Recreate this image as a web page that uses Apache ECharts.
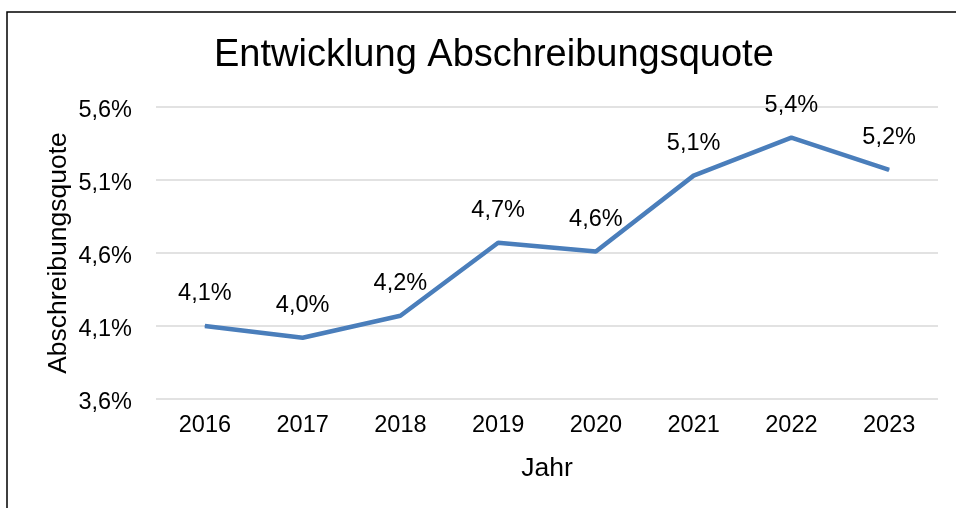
<!DOCTYPE html>
<html>
<head>
<meta charset="utf-8">
<script src="https://cdn.jsdelivr.net/npm/echarts@6/dist/echarts.min.js"></script>
<style>
  html, body { margin: 0; padding: 0; background: #fff; }
  #chart { width: 956px; height: 508px; }
</style>
</head>
<body>
<div id="chart"></div>
<script>
var years = ['2016', '2017', '2018', '2019', '2020', '2021', '2022', '2023'];
var quote = [4.10, 4.02, 4.17, 4.67, 4.61, 5.13, 5.39, 5.17];
var yTicks = [3.6, 4.1, 4.6, 5.1, 5.6];

function pct(v) {
  return v.toFixed(1).replace('.', ',') + '%';
}

var font = 'Liberation Sans, Arial, sans-serif';

var option = {
  animation: false,
  title: {
    text: 'Entwicklung Abschreibungsquote',
    left: 209,
    top: 32,
    textStyle: { fontFamily: font, fontSize: 38, fontWeight: 'normal', color: '#000' }
  },
  graphic: [{
    type: 'rect',
    shape: { x: 7, y: 12, width: 1000, height: 600 },
    style: { fill: 'none', stroke: '#000', lineWidth: 1.5 }
  }],
  grid: { left: 156, right: 18, top: 107, bottom: 109 },
  xAxis: {
    type: 'category',
    data: years,
    boundaryGap: true,
    name: 'Jahr',
    nameLocation: 'middle',
    nameGap: 56,
    nameTextStyle: { fontFamily: font, fontSize: 26.5, color: '#000' },
    axisLine: { show: false },
    axisTick: { show: false },
    axisLabel: { fontFamily: font, fontSize: 23.5, color: '#000', margin: 15 }
  },
  yAxis: {
    type: 'value',
    min: yTicks[0],
    max: yTicks[yTicks.length - 1],
    interval: yTicks[1] - yTicks[0],
    name: 'Abschreibungsquote',
    nameLocation: 'middle',
    nameGap: 84,
    nameMoveOverlap: false,
    nameTextStyle: { fontFamily: font, fontSize: 26.5, color: '#000' },
    axisLine: { show: false },
    axisTick: { show: false },
    splitLine: { lineStyle: { color: '#d9d9d9', width: 1.5 } },
    axisLabel: {
      fontFamily: font, fontSize: 23.5, color: '#000', margin: 24,
      formatter: function (v) { return '{v|' + pct(v) + '}'; },
      rich: {
        v: { fontFamily: font, fontSize: 23.5, color: '#000', padding: [8, 0, 0, 0] }
      }
    }
  },
  series: [{
    type: 'line',
    data: quote,
    symbol: 'circle',
    symbolSize: 1,
    itemStyle: { color: '#4a7ebb' },
    lineStyle: { color: '#4a7ebb', width: 4.5 },
    label: {
      show: true,
      position: 'top',
      distance: 20,
      fontFamily: font,
      fontSize: 23.5,
      color: '#000',
      formatter: function (p) { return pct(p.value); }
    }
  }]
};

var chart = echarts.init(document.getElementById('chart'));
chart.setOption(option);
</script>
</body>
</html>
